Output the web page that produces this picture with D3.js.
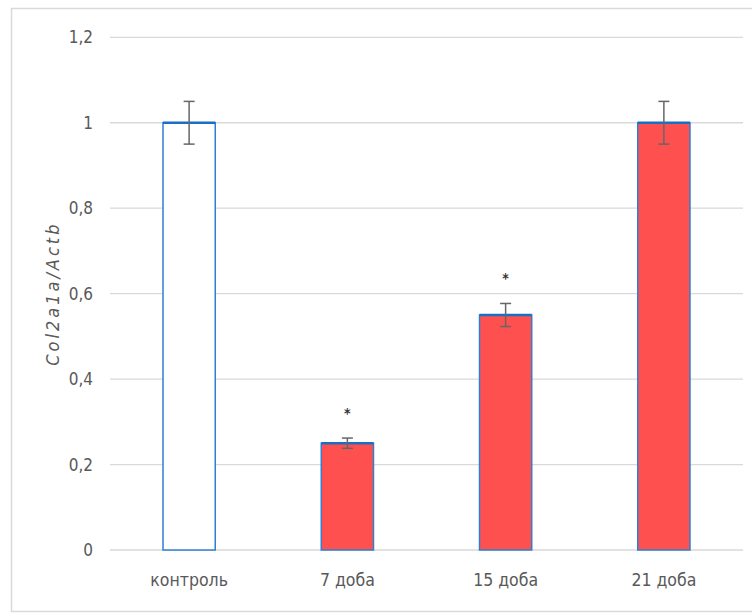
<!DOCTYPE html>
<html>
<head>
<meta charset="utf-8">
<script src="https://cdn.jsdelivr.net/npm/d3@7"></script>
<style>
  html, body { margin: 0; padding: 0; background: #fff; }
  svg { display: block; }
  text { font-family: "Liberation Sans Narrow", "DejaVu Sans Condensed", "Liberation Sans", sans-serif; }
</style>
</head>
<body>
<svg id="chart" width="752" height="614"></svg>
<script>
// Relative Col2a1a expression normalised to Actb
const categories = ["контроль", "7 доба", "15 доба", "21 доба"];
const values = [1.0, 0.25, 0.55, 1.0];
const errors = [0.05, 0.012, 0.027, 0.05];
const significant = [false, true, true, false];
const fills = ["#ffffff", "#ff5050", "#ff5050", "#ff5050"];
const yTicks = [0, 0.2, 0.4, 0.6, 0.8, 1.0, 1.2];
const yLabel = "Col2a1a/Actb";

const svg = d3.select("#chart");
const margin = { left: 110, right: 9, top: 37.3, bottom: 64 };
const W = 752, H = 614;
const fontStack = '"Liberation Sans Narrow", "DejaVu Sans Condensed", sans-serif';

// chart frame
svg.append("rect")
  .attr("x", 11.5).attr("y", 8.5)
  .attr("width", 752).attr("height", 603)
  .attr("fill", "none").attr("stroke", "#d9d9d9").attr("stroke-width", 1.5);

const x = d3.scaleBand()
  .domain(categories)
  .range([margin.left, W - margin.right])
  .paddingInner(0.67).paddingOuter(0.335);

const y = d3.scaleLinear()
  .domain([0, 1.2])
  .range([H - margin.bottom, margin.top]);

// horizontal gridlines
svg.append("g").selectAll("line")
  .data(yTicks)
  .join("line")
  .attr("x1", margin.left).attr("x2", W - margin.right)
  .attr("y1", d => y(d)).attr("y2", d => y(d))
  .attr("stroke", "#d9d9d9").attr("stroke-width", 1.3);

// y axis labels
const fmt = d => d3.format("~g")(d).replace(".", ",");
const yAxis = d3.axisLeft(y).tickValues(yTicks).tickFormat(fmt).tickSize(0).tickPadding(17);
const gy = svg.append("g").attr("transform", `translate(${margin.left},0)`).call(yAxis);
gy.select(".domain").remove();
gy.selectAll("text")
  .attr("font-size", 17).attr("fill", "#595959")
  .style("font-family", fontStack);

// x axis labels
const xAxis = d3.axisBottom(x).tickSize(0).tickPadding(24);
const gx = svg.append("g").attr("transform", `translate(0,${y(0)})`).call(xAxis);
gx.select(".domain").remove();
gx.selectAll("text")
  .attr("font-size", 17.5).attr("fill", "#595959")
  .style("font-family", fontStack);

// bars
svg.append("g").selectAll("rect")
  .data(categories)
  .join("rect")
  .attr("x", d => x(d))
  .attr("y", (d, i) => y(values[i]))
  .attr("width", x.bandwidth())
  .attr("height", (d, i) => y(0) - y(values[i]))
  .attr("fill", (d, i) => fills[i])
  .attr("stroke", "#2e7fd0").attr("stroke-width", 1.5);

// bar top edge
svg.append("g").selectAll("line")
  .data(categories)
  .join("line")
  .attr("x1", d => x(d)).attr("x2", d => x(d) + x.bandwidth())
  .attr("y1", (d, i) => y(values[i])).attr("y2", (d, i) => y(values[i]))
  .attr("stroke", "#1a6fc4").attr("stroke-width", 2.5);

// error bars
const eb = svg.append("g").attr("stroke", "#666").attr("stroke-width", 1.5);
categories.forEach((c, i) => {
  const cx = x(c) + x.bandwidth() / 2;
  const hi = y(values[i] + errors[i]), lo = y(values[i] - errors[i]);
  eb.append("line").attr("x1", cx).attr("x2", cx).attr("y1", hi).attr("y2", lo);
  eb.append("line").attr("x1", cx - 5.5).attr("x2", cx + 5.5).attr("y1", hi).attr("y2", hi);
  eb.append("line").attr("x1", cx - 5.5).attr("x2", cx + 5.5).attr("y1", lo).attr("y2", lo);
});

// significance marks
svg.append("g").selectAll("text")
  .data(categories.filter((c, i) => significant[i]))
  .join("text")
  .attr("x", d => x(d) + x.bandwidth() / 2)
  .attr("y", d => {
    const i = categories.indexOf(d);
    return y(values[i] + errors[i]) - 20;
  })
  .attr("text-anchor", "middle")
  .attr("font-size", 14).attr("font-weight", "bold").attr("fill", "#333")
  .text("*");

// y axis title
svg.append("text")
  .attr("transform", `translate(59,${(y(0.4) + y(0.8)) / 2}) rotate(-90)`)
  .attr("text-anchor", "middle")
  .attr("font-size", 18).attr("font-style", "italic").attr("fill", "#595959")
  .style("letter-spacing", "3px")
  .text(yLabel);
</script>
</body>
</html>
